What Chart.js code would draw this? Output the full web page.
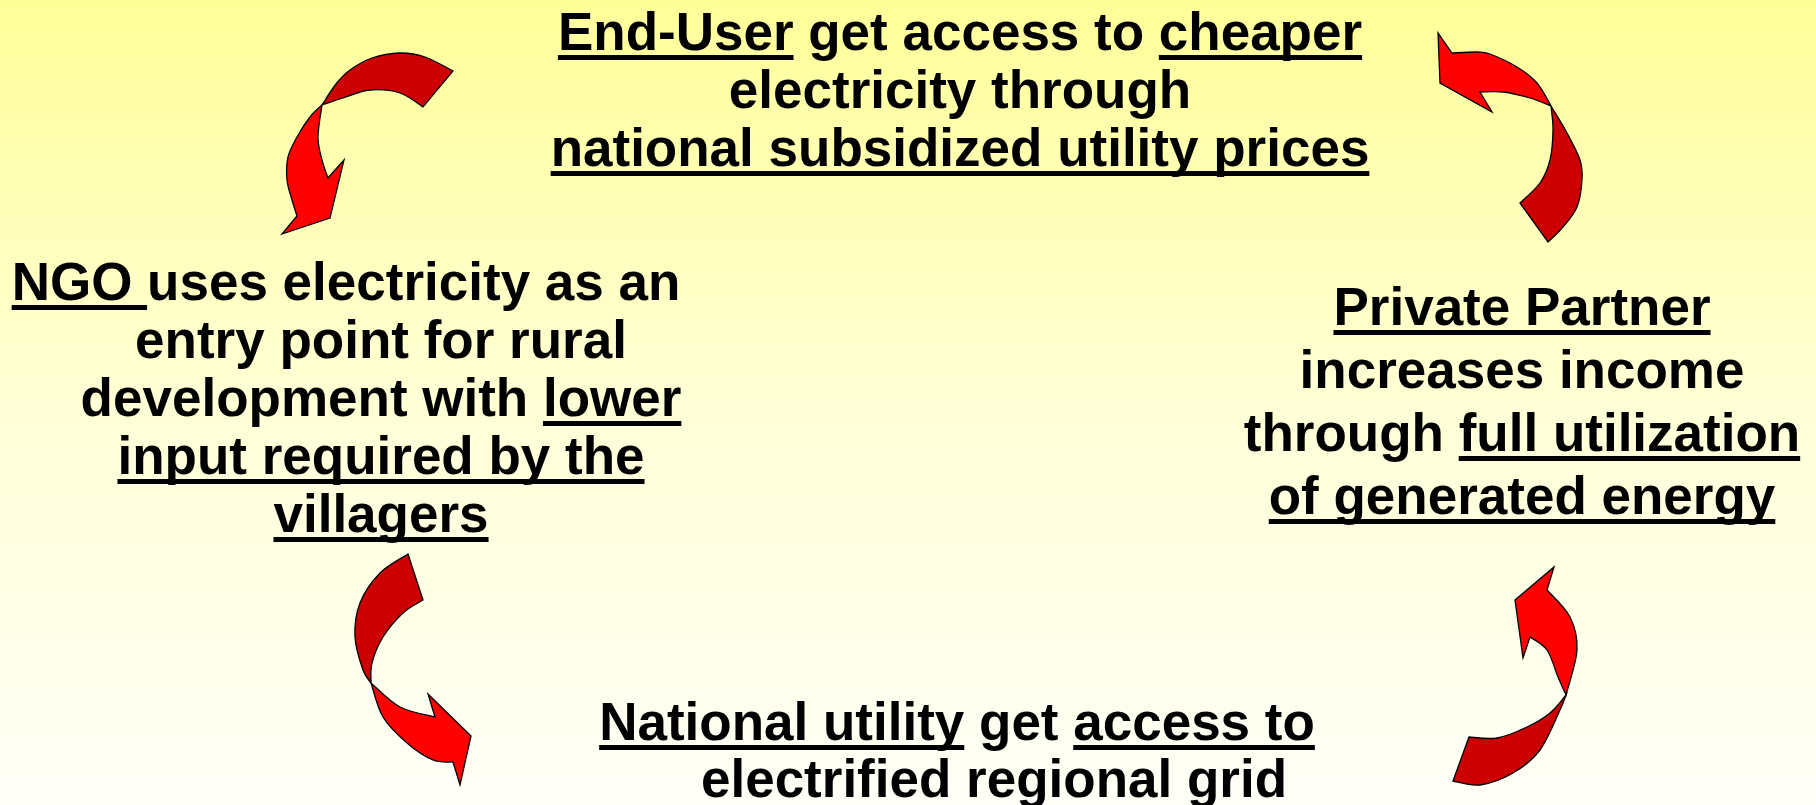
<!DOCTYPE html>
<html>
<head>
<meta charset="utf-8">
<script src="https://cdn.jsdelivr.net/npm/chart.js@4.4.1/dist/chart.umd.min.js"></script>
<style>
  html, body { margin: 0; padding: 0; overflow: hidden; }
  #wrap { position: relative; width: 1816px; height: 805px; }
</style>
</head>
<body>
<div id="wrap"><canvas id="cycleChart"></canvas></div>
<script>
// ====== Text of the four boxes (runs: [text, underlined]) ======
const endUserLines = [
  [["End-User", true], [" get access to ", false], ["cheaper", true]],
  [["electricity through", false]],
  [["national subsidized utility prices", true]]
];
const ngoLines = [
  [["NGO ", true], ["uses electricity as an", false]],
  [["entry point for rural", false]],
  [["development with ", false], ["lower", true]],
  [["input required by the", true]],
  [["villagers", true]]
];
const partnerLines = [
  [["Private Partner", true]],
  [["increases income", false]],
  [["through ", false], ["full utilization", true]],
  [["of generated energy", true]]
];
const utilityLines = [
  [["National utility", true], [" get ", false], ["access to", true]],
  [["electrified regional grid", false]]
];

// ====== Layout (in axis units, 0..1816 x 0..805) ======
const boxes = [
  { lines: endUserLines, cx: 960, y0: 50, step: 58 },
  { lines: ngoLines, cx: 381, y0: 300, step: 58, lineCx: { 0: 346 } },
  { lines: partnerLines, cx: 1522, y0: 325, step: 63 },
  { lines: utilityLines, cx: 957, y0: 740, step: 57, lineCx: { 1: 994 } }
];

// curved twisted arrows: back part (dark), front part (bright) and head
const arrows = [
  { // top left, pointing down
    darkA: [[453,71],[425,57],[400,53],[372,58],[350,70],[336,84],[322,105]],
    darkB: [[423,107],[400,93],[370,90],[343,98],[322,105]],
    brightA: [[322,105],[310,117],[297,137],[288,157],[287,180],[292,200],[297,216]],
    brightB: [[322,105],[318,137],[322,160],[328,178]],
    head: [[282,234],[330,218],[344,160]]
  },
  { // top right, pointing left
    darkA: [[1548,242],[1563,227],[1577,207],[1582,180],[1580,160],[1567,133],[1551,106]],
    darkB: [[1520,203],[1540,183],[1550,160],[1553,130],[1551,106]],
    brightA: [[1551,106],[1537,83],[1517,67],[1490,54],[1477,52],[1452,53]],
    brightB: [[1551,106],[1530,98],[1503,92],[1480,92]],
    head: [[1438,33],[1440,83],[1492,112]]
  },
  { // bottom left, pointing right
    darkA: [[408,554],[380,573],[360,603],[355,637],[363,670],[371,683]],
    darkB: [[423,600],[403,613],[383,637],[372,663],[371,683]],
    brightA: [[371,683],[383,717],[407,743],[433,760],[453,762]],
    brightB: [[371,683],[400,707],[435,717]],
    head: [[460,785],[471,736],[428,694]]
  },
  { // bottom right, pointing up
    darkA: [[1453,781],[1480,785],[1513,773],[1540,750],[1560,710],[1566,695]],
    darkB: [[1469,737],[1497,738],[1527,727],[1550,713],[1566,695]],
    brightA: [[1566,695],[1577,650],[1570,617],[1547,590]],
    brightB: [[1566,695],[1558,677],[1547,650],[1530,637]],
    head: [[1554,567],[1515,600],[1523,658]]
  }
];

const FONT = 'bold 53px "Liberation Sans", Arial, sans-serif';

// Catmull-Rom through the points
function curveThrough(ctx, pts, start) {
  if (start) ctx.moveTo(pts[0][0], pts[0][1]);
  else ctx.lineTo(pts[0][0], pts[0][1]);
  for (let i = 0; i < pts.length - 1; i++) {
    const p0 = pts[i - 1] || pts[i];
    const p1 = pts[i];
    const p2 = pts[i + 1];
    const p3 = pts[i + 2] || pts[i + 1];
    ctx.bezierCurveTo(
      p1[0] + (p2[0] - p0[0]) / 6, p1[1] + (p2[1] - p0[1]) / 6,
      p2[0] - (p3[0] - p1[0]) / 6, p2[1] - (p3[1] - p1[1]) / 6,
      p2[0], p2[1]
    );
  }
}

const diagramPlugin = {
  id: "diagram",
  beforeDraw(chart) {
    const { ctx, width, height } = chart;
    const g = ctx.createLinearGradient(0, 0, 0, height);
    g.addColorStop(0, "#ffff99");
    g.addColorStop(0.5, "#ffffd6");
    g.addColorStop(1, "#fffff8");
    ctx.save();
    ctx.fillStyle = g;
    ctx.fillRect(0, 0, width, height);
    ctx.restore();
  },
  afterDraw(chart) {
    const { ctx } = chart;
    const xs = chart.scales.x, ys = chart.scales.y;
    const px = (p) => [xs.getPixelForValue(p[0]), ys.getPixelForValue(p[1])];

    // arrows
    ctx.save();
    ctx.lineWidth = 1.3;
    ctx.strokeStyle = "#000";
    ctx.lineJoin = "miter";
    arrows.forEach((a) => {
      const dA = a.darkA.map(px), dB = a.darkB.map(px);
      const bA = a.brightA.map(px), bB = a.brightB.map(px);
      const hd = a.head.map(px);

      ctx.beginPath();
      curveThrough(ctx, dA, true);
      curveThrough(ctx, dB.slice().reverse(), false);
      ctx.closePath();
      ctx.fillStyle = "#cc0000";
      ctx.fill();
      ctx.stroke();

      ctx.beginPath();
      curveThrough(ctx, bA, true);
      hd.forEach((p) => ctx.lineTo(p[0], p[1]));
      curveThrough(ctx, bB.slice().reverse(), false);
      ctx.closePath();
      ctx.fillStyle = "#ff0000";
      ctx.fill();
      ctx.stroke();
    });
    ctx.restore();

    // text boxes
    ctx.save();
    ctx.font = FONT;
    ctx.fillStyle = "#000";
    ctx.textBaseline = "alphabetic";
    ctx.textAlign = "left";
    boxes.forEach((b) => {
      b.lines.forEach((runs, i) => {
        const cx = (b.lineCx && b.lineCx[i] !== undefined) ? b.lineCx[i] : b.cx;
        const yv = b.y0 + i * b.step;
        const total = runs.reduce((s, r) => s + ctx.measureText(r[0]).width, 0);
        let x = xs.getPixelForValue(cx) - total / 2;
        const y = ys.getPixelForValue(yv);
        runs.forEach(([txt, under]) => {
          const w = ctx.measureText(txt).width;
          ctx.fillText(txt, x, y);
          if (under) ctx.fillRect(x, y + 5, w, 5);
          x += w;
        });
      });
    });
    ctx.restore();
  }
};

new Chart(document.getElementById("cycleChart"), {
  type: "scatter",
  data: { datasets: [{ data: [], pointRadius: 0 }] },
  options: {
    responsive: true,
    maintainAspectRatio: false,
    animation: false,
    layout: { padding: 0 },
    plugins: { legend: { display: false }, tooltip: { enabled: false } },
    scales: {
      x: { type: "linear", min: 0, max: 1816, display: false },
      y: { type: "linear", min: 0, max: 805, reverse: true, display: false }
    }
  },
  plugins: [diagramPlugin]
});
</script>
</body>
</html>
